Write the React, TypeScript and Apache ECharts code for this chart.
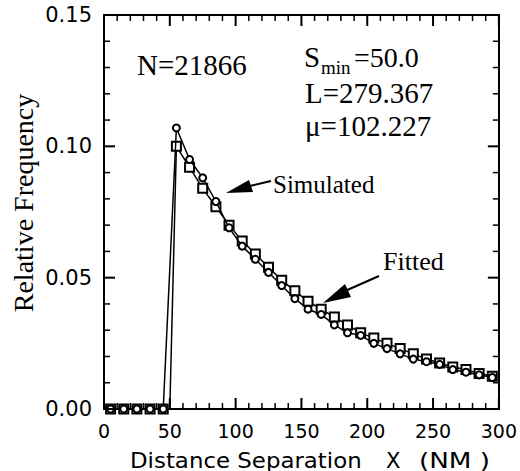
import React, { useEffect, useRef } from "react";
import * as echarts from "echarts";

const binCenters = [5, 15, 25, 35, 45, 55, 65, 75, 85, 95, 105, 115, 125, 135, 145, 155, 165, 175, 185, 195, 205, 215, 225, 235, 245, 255, 265, 275, 285, 295];
const simulated = [0, 0, 0, 0, 0, 0.107, 0.095, 0.088, 0.079, 0.069, 0.062, 0.057, 0.052, 0.047, 0.042, 0.038, 0.036, 0.032, 0.029, 0.028, 0.025, 0.023, 0.021, 0.019, 0.018, 0.017, 0.015, 0.014, 0.013, 0.012];
const fitted = [0, 0, 0, 0, 0, 0.100, 0.092, 0.084, 0.077, 0.070, 0.064, 0.059, 0.054, 0.049, 0.045, 0.041, 0.038, 0.035, 0.032, 0.029, 0.027, 0.025, 0.023, 0.021, 0.019, 0.0175, 0.016, 0.015, 0.0135, 0.0125];
const fitStartX = 50;
const fitStartY = 0;
const yTicks = [0, 0.05, 0.1, 0.15];
const xTicks = [0, 50, 100, 150, 200, 250, 300];
const xMinorStep = 10;
const yMinorStep = 0.01;

const SERIF = "'Liberation Serif', 'Times New Roman', serif";
const SANS = "'DejaVu Sans', sans-serif";
const GRID = { left: 104, right: 21, top: 15, bottom: 62 };
const W = 520;
const H = 471;

function axisParts() {
  return {
    axisLine: { show: true, onZero: false, lineStyle: { color: "#000", width: 2 } },
    axisTick: { show: false },
    minorTick: { show: false },
    splitLine: { show: false },
  };
}

export default function App() {
  const ref = useRef<HTMLDivElement>(null);
  useEffect(() => {
    document.body.style.margin = "0";
    if (!ref.current) return;
    const chart = echarts.init(ref.current, null, { renderer: "svg" });
    const simData = binCenters.map((x, i) => [x, simulated[i]]);
    const fitData: any[] = [];
    binCenters.forEach((x, i) => {
      if (x > fitStartX && binCenters[i - 1] < fitStartX) {
        fitData.push({ value: [fitStartX, fitStartY], symbol: "none" });
      }
      fitData.push([x, fitted[i]]);
    });
    const xMin = xTicks[0];
    const xMax = xTicks[xTicks.length - 1];
    const yMin = yTicks[0];
    const yMax = yTicks[yTicks.length - 1];
    chart.setOption({
      animation: false,
      grid: GRID,
      xAxis: [
        {
          type: "value",
          position: "bottom",
          min: xMin,
          max: xMax,
          interval: 50,
          ...axisParts(),
          axisLabel: { show: true, fontFamily: SANS, fontSize: 19, color: "#000", margin: 12 },
        },
        {
          type: "value",
          position: "top",
          min: xMin,
          max: xMax,
          interval: 50,
          ...axisParts(),
          axisLabel: { show: false },
        },
      ],
      yAxis: [
        {
          type: "value",
          position: "left",
          min: yMin,
          max: yMax,
          interval: 0.05,
          ...axisParts(),
          axisLabel: {
            show: true,
            fontFamily: SANS,
            fontSize: 21,
            color: "#000",
            margin: 12,
            formatter: (v: number) => v.toFixed(2),
          },
        },
        {
          type: "value",
          position: "right",
          min: yMin,
          max: yMax,
          interval: 0.05,
          ...axisParts(),
          axisLabel: { show: false },
        },
      ],
      series: [
        {
          name: "Simulated",
          type: "line",
          data: simData,
          symbol: "circle",
          symbolSize: 7,
          showAllSymbol: true,
          lineStyle: { color: "#000", width: 1.5 },
          itemStyle: { color: "#fff", borderColor: "#000", borderWidth: 2 },
          z: 3,
        },
        {
          name: "Fitted",
          type: "line",
          data: fitData,
          symbol: "rect",
          symbolSize: 9,
          showAllSymbol: true,
          lineStyle: { color: "#000", width: 1.5 },
          itemStyle: { color: "#fff", borderColor: "#000", borderWidth: 2 },
          z: 2,
        },
      ],
    });

    // grid-box fallback in case the conversion is not available
    const gx0 = GRID.left;
    const gx1 = W - GRID.right;
    const gy0 = H - GRID.bottom;
    const gy1 = GRID.top;
    const toPx = (xv: number, yv: number): [number, number] => {
      let p: any = null;
      try {
        p = chart.convertToPixel({ gridIndex: 0 }, [xv, yv]);
      } catch (e) {
        p = null;
      }
      if (p && isFinite(p[0]) && isFinite(p[1])) return [p[0], p[1]];
      return [
        gx0 + ((xv - xMin) / (xMax - xMin)) * (gx1 - gx0),
        gy0 + ((yv - yMin) / (yMax - yMin)) * (gy1 - gy0),
      ];
    };
    const [left, bottom] = toPx(xMin, yMin);
    const [right, top] = toPx(xMax, yMax);
    const ticks: any[] = [];
    const nX = Math.round((xMax - xMin) / xMinorStep);
    for (let i = 0; i <= nX; i++) {
      const v = xMin + i * xMinorStep;
      const major = xTicks.includes(v);
      const len = major ? 11 : 6;
      const w = major ? 2 : 1.5;
      const x = toPx(v, yMin)[0];
      ticks.push({ type: "line", z: 50, shape: { x1: x, y1: bottom, x2: x, y2: bottom - len }, style: { stroke: "#000", lineWidth: w } });
      ticks.push({ type: "line", z: 50, shape: { x1: x, y1: top, x2: x, y2: top + len }, style: { stroke: "#000", lineWidth: w } });
    }
    const nY = Math.round((yMax - yMin) / yMinorStep);
    for (let i = 0; i <= nY; i++) {
      const v = yMin + i * yMinorStep;
      const major = yTicks.some((t) => Math.abs(t - v) < 1e-9);
      const len = major ? 11 : 6;
      const w = major ? 2 : 1.5;
      const y = toPx(xMin, v)[1];
      ticks.push({ type: "line", z: 50, shape: { x1: left, y1: y, x2: left + len, y2: y }, style: { stroke: "#000", lineWidth: w } });
      ticks.push({ type: "line", z: 50, shape: { x1: right, y1: y, x2: right - len, y2: y }, style: { stroke: "#000", lineWidth: w } });
    }

    const texts: any[] = [
      {
        type: "text",
        x: 23,
        y: 203,
        rotation: Math.PI / 2,
        style: { text: "Relative Frequency", font: `28px ${SERIF}`, fill: "#000", align: "center", verticalAlign: "middle" },
      },
      {
        type: "text",
        x: 130,
        y: 461,
        scaleX: 1.09,
        style: { text: "Distance Separation", font: `21px ${SANS}`, fill: "#000", verticalAlign: "middle" },
      },
      { type: "text", x: 386, y: 461, style: { text: "X", font: `21px ${SANS}`, fill: "#000", verticalAlign: "middle" } },
      { type: "text", x: 419, y: 461, scaleX: 1.25, style: { text: "(NM )", font: `21px ${SANS}`, fill: "#000", verticalAlign: "middle" } },
      { type: "text", x: 137, y: 65, style: { text: "N=21866", font: `29px ${SERIF}`, fill: "#000", verticalAlign: "middle" } },
      { type: "text", x: 304, y: 57, style: { text: "S", font: `29px ${SERIF}`, fill: "#000", verticalAlign: "middle" } },
      { type: "text", x: 321, y: 67, style: { text: "min", font: `19px ${SERIF}`, fill: "#000", verticalAlign: "middle" } },
      { type: "text", x: 354, y: 57, style: { text: "=50.0", font: `28px ${SERIF}`, fill: "#000", verticalAlign: "middle" } },
      { type: "text", x: 305, y: 93, style: { text: "L=279.367", font: `29px ${SERIF}`, fill: "#000", verticalAlign: "middle" } },
      { type: "text", x: 305, y: 126, style: { text: "μ=102.227", font: `29px ${SERIF}`, fill: "#000", verticalAlign: "middle" } },
      { type: "text", x: 273, y: 184, style: { text: "Simulated", font: `25px ${SERIF}`, fill: "#000", verticalAlign: "middle" } },
      { type: "text", x: 383, y: 261, style: { text: "Fitted", font: `26px ${SERIF}`, fill: "#000", verticalAlign: "middle" } },
      { type: "line", shape: { x1: 250, y1: 186, x2: 271, y2: 181 }, style: { stroke: "#000", lineWidth: 2 } },
      { type: "polygon", shape: { points: [[226, 193], [253, 192], [249, 180]] }, style: { fill: "#000" } },
      { type: "line", shape: { x1: 345, y1: 291, x2: 379, y2: 276 }, style: { stroke: "#000", lineWidth: 2 } },
      { type: "polygon", shape: { points: [[323, 303], [351, 297], [345, 284]] }, style: { fill: "#000" } },
    ];

    chart.setOption({ graphic: [...texts, ...ticks] });
    return () => chart.dispose();
  }, []);
  return <div ref={ref} style={{ width: W, height: H, background: "#fff" }} />;
}
